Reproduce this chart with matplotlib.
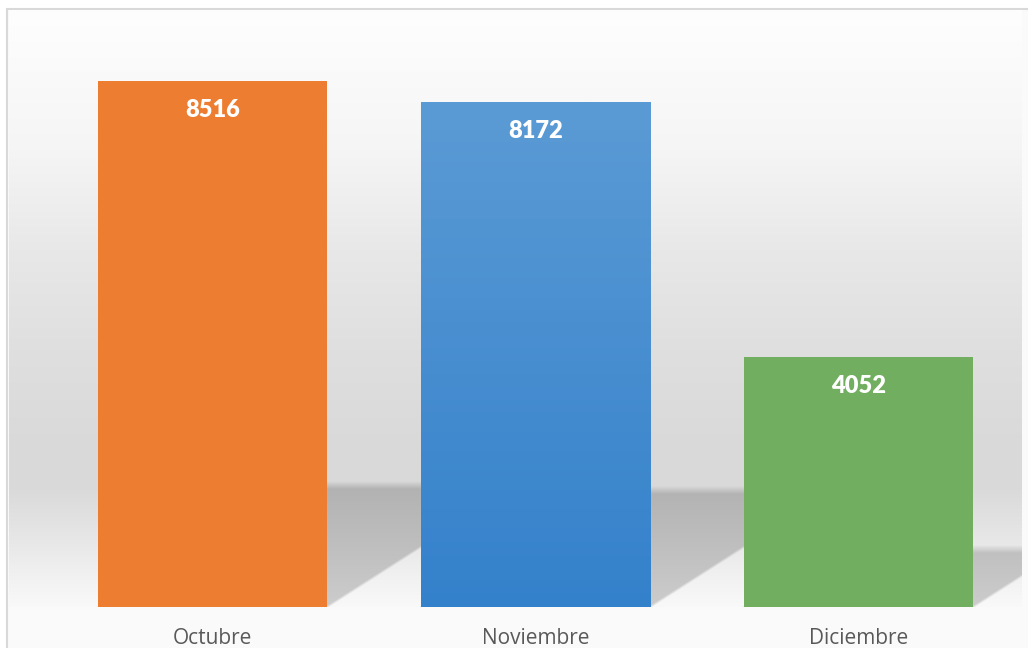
import numpy as np
import matplotlib
matplotlib.use("Agg")
import matplotlib.pyplot as plt
from matplotlib.patches import Rectangle
from matplotlib.colors import to_rgb

meses = ["Octubre", "Noviembre", "Diciembre"]
valores = [8516, 8172, 4052]
colores = ["#ED7D31", "#5B9BD5", "#72AE60"]

W, H, DPI = 1028, 648, 100
fig = plt.figure(figsize=(W / DPI, H / DPI), dpi=DPI, facecolor="white")

# marco del grafico
fig.patches.append(Rectangle((7 / W, -0.1), 1.2, 1 - 9 / H + 0.1, transform=fig.transFigure,
                             facecolor="#fafafa", edgecolor="#d9d9d9", lw=1.5, zorder=-5))

ax = fig.add_axes([9 / W, 41 / H, 1013 / W, 597 / H])
ax.set_zorder(1)
ax.patch.set_visible(False)
x0, x1 = -0.63, 2.506
ymax = 9665
ancho = 0.71

# fondo degradado + sombras en perspectiva
pw, ph = 1013, 597
px = np.arange(pw) + 0.5
py = np.arange(ph) + 0.5
PX, PY = np.meshgrid(px, py[::-1])  # fila 0 arriba
dist_top = ph - PY  # pixeles desde arriba
stops_y = [0, 140, 240, 340, 440, 480, 530, 570, 597]
stops_v = [254, 245, 232, 223, 217, 218, 231, 242, 249]
fondo = np.interp(dist_top, stops_y, stops_v) / 255.0

sombra = np.zeros_like(fondo)
pendiente = 0.64
for i, v in enumerate(valores):
    xl = (i - ancho / 2 - x0) / (x1 - x0) * pw
    xr = (i + ancho / 2 - x0) / (x1 - x0) * pw
    yt = 0.232 * v / ymax * ph
    desp = PY / pendiente
    m_top = np.clip((yt - PY) / 8 + 0.5, 0, 1)
    m_der = np.clip((xr + desp - PX) / 5 + 0.5, 0, 1)
    m_izq = np.clip((PX - xl - desp) / 5 + 0.5, 0, 1)
    sombra = np.maximum(sombra, m_top * m_der * m_izq)
img = fondo * (1 - 0.18 * sombra)
ax.imshow(np.dstack([img, img, img]), extent=[x0, x1, 0, ymax], aspect="auto",
          interpolation="bilinear", zorder=0)

barras = ax.bar(range(len(meses)), valores, width=ancho, color=colores, zorder=2)

# degradado de la barra azul
b = barras[1]
grad = np.linspace(0, 1, 256)[:, None]
c1, c2 = np.array(to_rgb("#5B9BD5")), np.array(to_rgb("#3481CB"))
gimg = c1[None, None, :] * (1 - grad[..., None]) + c2[None, None, :] * grad[..., None]
im = ax.imshow(gimg, extent=[b.get_x(), b.get_x() + b.get_width(), 0, b.get_height()],
               aspect="auto", zorder=3)
im.set_clip_path(b)

for i, v in enumerate(valores):
    ax.annotate(str(v), (i, v), xytext=(0, -21), textcoords="offset points",
                ha="center", va="center", color="white", fontsize=17,
                fontweight="heavy", family=["Lato", "DejaVu Sans"], zorder=4)

ax.set_xticks(range(len(meses)))
ax.set_xticklabels(meses, fontsize=15, color="#595959", family=["Open Sans", "DejaVu Sans"])
ax.tick_params(axis="x", length=0, pad=15)
ax.set_yticks([])
ax.set_xlim(x0, x1)
ax.set_ylim(0, ymax)
for s in ax.spines.values():
    s.set_visible(False)

fig.savefig("out.png", dpi=DPI, facecolor="white")
